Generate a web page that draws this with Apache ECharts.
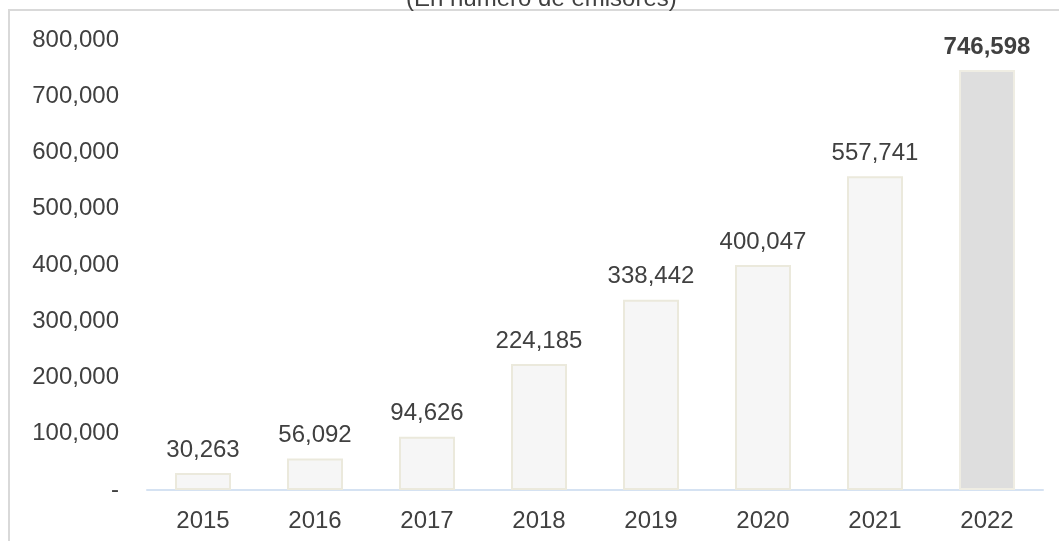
<!DOCTYPE html>
<html>
<head>
<meta charset="utf-8">
<script src="https://cdn.jsdelivr.net/npm/echarts@6/dist/echarts.min.js"></script>
<style>
html,body{margin:0;padding:0;background:#fff;}
#chart{width:1059px;height:541px;}
</style>
</head>
<body>
<div id="chart"></div>
<script>
const categories = ['2015','2016','2017','2018','2019','2020','2021','2022'];
const emisores = [30263, 56092, 94626, 224185, 338442, 400047, 557741, 746598];
const yTickLabels = ['-','100,000','200,000','300,000','400,000','500,000','600,000','700,000','800,000'];
const titleText = '(En número de emisores)';

const FONT = 'Arial, "Liberation Sans", sans-serif';
const TXT = '#404040';
const fmt = v => v.toLocaleString('en-US');

const data = emisores.map((v, i) => {
  const last = i === emisores.length - 1;
  return {
    value: v,
    itemStyle: last ? {color: '#dedede', borderColor: '#efede3', borderWidth: 2}
                    : {color: '#f6f6f6', borderColor: '#ebe9dc', borderWidth: 2},
    label: last ? {fontWeight: 'bold'} : {}
  };
});

const chart = echarts.init(document.getElementById('chart'), null, {renderer: 'canvas'});
chart.setOption({
  animation: false,
  backgroundColor: '#ffffff',
  title: {
    text: titleText,
    left: 406,
    top: -13,
    padding: 0,
    textStyle: {fontFamily: FONT, fontSize: 24, fontWeight: 'normal', color: TXT}
  },
  graphic: [{
    type: 'rect',
    z: -10,
    shape: {x: 9, y: 10, width: 1100, height: 600},
    style: {fill: 'none', stroke: '#d9d9d9', lineWidth: 2}
  }],
  grid: {left: 147, right: 16, top: 40, bottom: 51, containLabel: false},
  xAxis: {
    type: 'category',
    data: categories,
    axisLine: {show: true, lineStyle: {color: '#d5e2f2', width: 2}},
    axisTick: {show: false},
    axisLabel: {fontFamily: FONT, fontSize: 24, color: TXT, margin: 19}
  },
  yAxis: {
    type: 'value',
    min: 0,
    max: 800000,
    interval: 100000,
    splitLine: {show: false},
    axisLine: {show: false},
    axisTick: {show: false},
    axisLabel: {
      fontFamily: FONT, fontSize: 24, color: TXT, margin: 28,
      formatter: v => yTickLabels[Math.round(v / 100000)]
    }
  },
  series: [{
    type: 'bar',
    barWidth: 56,
    data: data,
    label: {
      show: true,
      position: 'top',
      distance: 11,
      fontFamily: FONT,
      fontSize: 24,
      color: TXT,
      formatter: p => fmt(p.value)
    }
  }]
});
</script>
</body>
</html>
